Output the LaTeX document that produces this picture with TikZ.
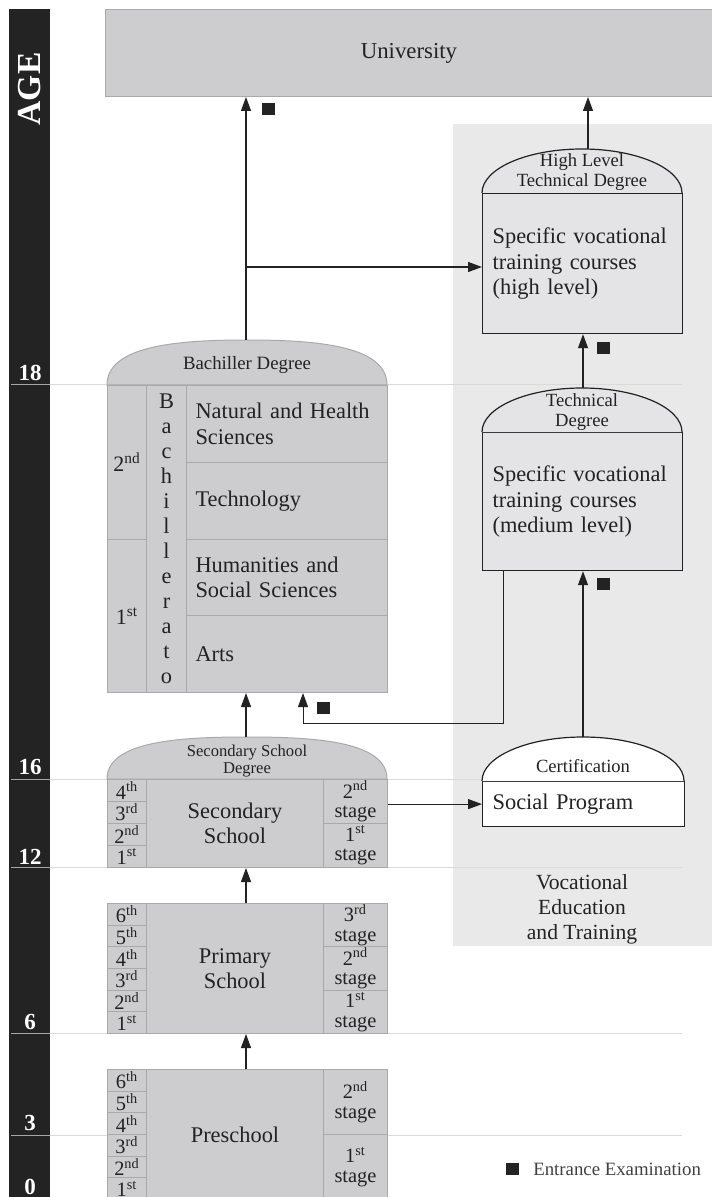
\documentclass[tikz,border=0pt]{standalone}
\usepackage{fontspec}
\setmainfont{Liberation Serif}
\usetikzlibrary{arrows.meta,positioning,calc}
\definecolor{agebar}{HTML}{232323}
\definecolor{cellfill}{HTML}{CDCDCF}
\definecolor{cellline}{HTML}{A9A9AB}
\definecolor{vetbg}{HTML}{E9E9E9}
\definecolor{vetfill}{HTML}{E4E4E6}
\definecolor{ageline}{HTML}{DADADA}
\definecolor{inktext}{HTML}{222222}

\begin{document}
\begin{tikzpicture}[x=0.5pt,y=-0.5pt,text=inktext,
  cell/.style={draw=cellline,fill=cellfill,line width=0.5pt,anchor=north west,inner sep=0pt,align=center,font=\fontsize{11.2}{12.8}\selectfont},
  yearcell/.style={cell,minimum width=19.5pt,font=\fontsize{10.2}{10.5}\selectfont},
  stagecell/.style={cell,minimum width=32pt,font=\fontsize{10.2}{9.8}\selectfont},
  subjcell/.style={cell,text width=91.5pt,inner xsep=4.5pt,align=left,minimum height=38.4pt},
  vetbox/.style={draw=inktext,fill=vetfill,line width=0.6pt,anchor=north west,text width=90pt,inner xsep=5pt,inner ysep=0pt,align=left,font=\fontsize{11.2}{12.8}\selectfont},
  domegray/.style={draw=cellline,fill=cellfill,line width=0.5pt},
  vetdome/.style={draw=inktext,fill=vetfill,line width=0.6pt},
  dometext/.style={font=\fontsize{9.3}{9.6}\selectfont,align=center,inner sep=0pt},
  arrow/.style={-{Triangle[length=7pt,width=5pt]},line width=0.6pt,draw=inktext},
  exam/.style={fill=agebar,minimum width=6.5pt,minimum height=6pt,inner sep=0pt},
  agenum/.style={text=white,font=\bfseries\fontsize{11.5}{12}\selectfont},
  agetick/.style={draw=gray!70,line width=0.5pt},
  ageline/.style={draw=ageline,line width=0.5pt}]
\useasboundingbox (0,0) rectangle (711,1197);
% Vocational education area
\fill[vetbg] (453,124) rectangle (712,946);
\node[align=center,font=\fontsize{10.8}{12.5}\selectfont] (vetlabel) at (582,909) {Vocational\\Education\\and Training};
% Age scale
\fill[agebar] (9,9) rectangle (50,1198);
\node[rotate=90,text=white,font=\bfseries\fontsize{16.8}{18}\selectfont] (agetitle) at (30,89) {AGE};
\foreach \a/\y in {18/373,16/767,12/857,6/1022,3/1123,0/1187}
  \node[agenum] (age\a) at (30,\y) {\a};
\foreach \y in {385,779,867,1033,1135} {
  \draw[agetick] (11,\y) -- (50,\y);
  \draw[ageline] (50,\y) -- (682,\y);
}
% University
\node[cell,minimum width=303.5pt,minimum height=43.5pt,font=\fontsize{11.4}{13}\selectfont] (uni) at (105,9) {University};
% Bachillerato
\draw[domegray] (107,385) .. controls (107,345) and (180,340) .. (247,340) .. controls (314,340) and (387,345) .. (387,385) -- cycle;
\node[dometext,font=\fontsize{9.4}{10}\selectfont] (bachdeg) at (247,365) {Bachiller Degree};
\node[yearcell,minimum height=77pt,font=\fontsize{11}{12}\selectfont] (bachy2) at (107,385) {2\textsuperscript{nd}};
\node[yearcell,minimum height=76.5pt,font=\fontsize{11}{12}\selectfont] (bachy1) at (107,539) {1\textsuperscript{st}};
\node[cell,minimum width=20pt,minimum height=153.5pt,font=\fontsize{11.2}{12.5}\selectfont] (bachcol) at (146,385) {B\\a\\c\\h\\i\\l\\l\\e\\r\\a\\t\\o};
\node[subjcell] (nat) at (186,385) {Natural and Health\\Sciences};
\node[subjcell] (tech) at (186,461.75) {Technology};
\node[subjcell] (hum) at (186,538.5) {Humanities and\\Social Sciences};
\node[subjcell] (arts) at (186,615.25) {Arts};
% Secondary school
\draw[domegray] (107,779) .. controls (107,741) and (180,737) .. (247,737) .. controls (314,737) and (387,741) .. (387,779) -- cycle;
\node[dometext,font=\fontsize{8.3}{8.6}\selectfont] (secdeg) at (247,761) {Secondary School\\Degree};
\foreach \yr/\ord [count=\i from 0] in {4/th,3/rd,2/nd,1/st}
  \node[yearcell,minimum height=11pt] (secy\yr) at (107,779+22*\i) {\yr\textsuperscript{\ord}};
\node[cell,minimum width=88.5pt,minimum height=44pt] (secmid) at (146,779) {Secondary\\School};
\node[stagecell,minimum height=22pt] (secst2) at (323,779) {2\textsuperscript{nd}\\stage};
\node[stagecell,minimum height=22pt] (secst1) at (323,823) {1\textsuperscript{st}\\stage};
% Primary school
\foreach \yr/\ord [count=\i from 0] in {6/th,5/th,4/th,3/rd,2/nd,1/st}
  \node[yearcell,minimum height=10.833pt] (primy\yr) at (107,903+21.667*\i) {\yr\textsuperscript{\ord}};
\node[cell,minimum width=88.5pt,minimum height=65pt] (primmid) at (146,903) {Primary\\School};
\node[stagecell,minimum height=21.667pt] (primst3) at (323,903) {3\textsuperscript{rd}\\stage};
\node[stagecell,minimum height=21.667pt] (primst2) at (323,946.33) {2\textsuperscript{nd}\\stage};
\node[stagecell,minimum height=21.667pt] (primst1) at (323,989.67) {1\textsuperscript{st}\\stage};
% Preschool
\foreach \yr/\ord [count=\i from 0] in {6/th,5/th,4/th,3/rd,2/nd,1/st}
  \node[yearcell,minimum height=10.833pt] (prey\yr) at (107,1069+21.667*\i) {\yr\textsuperscript{\ord}};
\node[cell,minimum width=88.5pt,minimum height=65pt] (premid) at (146,1069) {Preschool};
\node[stagecell,minimum height=32.5pt] (prest2) at (323,1069) {2\textsuperscript{nd}\\stage};
\node[stagecell,minimum height=32.5pt] (prest1) at (323,1134) {1\textsuperscript{st}\\stage};
% Vocational training boxes
\node[vetbox,minimum height=70pt] (hltd) at (482,193) {Specific vocational\\training courses\\(high level)};
\draw[vetdome] (hltd.north west) arc[start angle=180,end angle=0,x radius=50pt,y radius=22pt];
\node[dometext] (hltddeg) at (582,172) {High Level\\Technical Degree};
\node[vetbox,minimum height=69pt] (td) at (482,432) {Specific vocational\\training courses\\(medium level)};
\draw[vetdome] (td.north west) arc[start angle=180,end angle=0,x radius=50pt,y radius=22pt];
\node[dometext] (tddeg) at (582,412) {Technical\\Degree};
\node[vetbox,fill=white,text width=91pt,minimum height=22.5pt] (cert) at (482,781) {Social Program};
\draw[vetdome,fill=white] (cert.north west) arc[start angle=180,end angle=0,x radius=50.5pt,y radius=22pt];
\node[dometext] (certdeg) at (583,766) {Certification};
% Connectors
\coordinate (bachtop) at (246,340);
\coordinate (branch) at (246,267);
\coordinate (hltdtop) at (588,149.5);
\coordinate (tdtop) at (583,388);
\coordinate (certtop) at (583,737);
\coordinate (sectop) at (246,737);
\coordinate (primtop) at (246,903);
\coordinate (pretop) at (246,1069);
\coordinate (tdout) at ($(td.south west)+(21,0)$);
\coordinate (bachin) at (303,723);
\draw[arrow] (bachtop) -- (bachtop |- uni.south);
\draw[arrow] (branch) -- (branch -| hltd.west);
\draw[arrow] (hltdtop) -- (hltdtop |- uni.south);
\draw[arrow] (tdtop) -- (tdtop |- hltd.south);
\draw[arrow] (certtop) -- (certtop |- td.south);
\draw[arrow,line width=0.5pt] (tdout) |- (bachin) -- (bachin |- arts.south);
\draw[arrow] (sectop) -- (sectop |- arts.south);
\draw[arrow] (secst2.east |- cert.west) -- (cert.west);
\draw[arrow] (primtop) -- (primtop |- secmid.south);
\draw[arrow] (pretop) -- (pretop |- primmid.south);
% Entrance examinations
\node[exam] (exuni) at (268.5,109.5) {};
\node[exam] (exhltd) at (603.5,348) {};
\node[exam] (extd) at (603,584) {};
\node[exam] (exbach) at (323.5,707.5) {};
\node[exam] (exkey) at (512,1169) {};
\node[right=7pt of exkey,inner sep=0pt,text=black!75,font=\fontsize{9.4}{10}\selectfont] (keytext) {Entrance Examination};
\end{tikzpicture}
\end{document}
